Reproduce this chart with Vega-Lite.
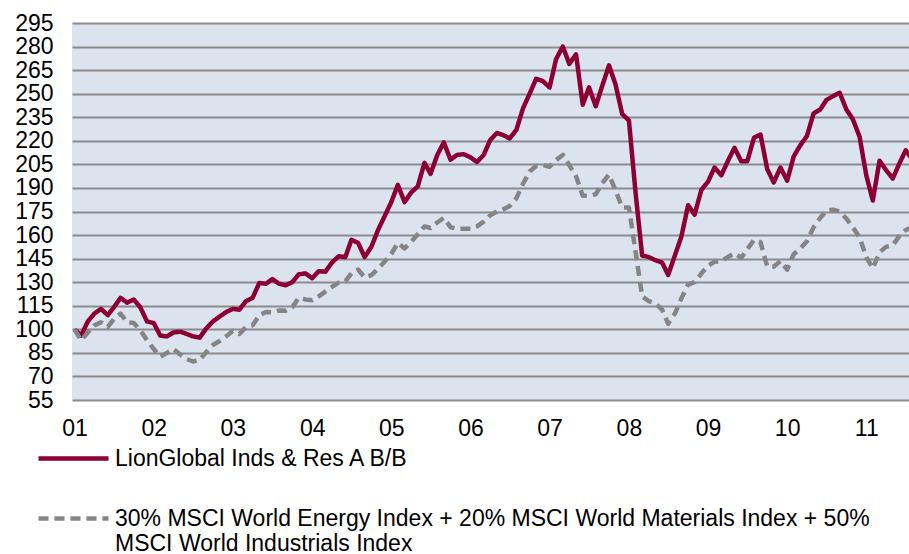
{
  "$schema": "https://vega.github.io/schema/vega-lite/v6.json",
  "width": 837,
  "height": 377,
  "autosize": {"type": "none"},
  "padding": {"left": 72, "top": 23, "right": 0, "bottom": 154},
  "background": "white",
  "config": {
    "font": "Liberation Sans",
    "view": {"fill": "#dbe3ef", "stroke": null}
  },
  "data": {"values": [
    {"d":"2001-09-01","a":100,"b":100},
    {"d":"2001-10-01","a":96,"b":93},
    {"d":"2001-11-01","a":105,"b":98},
    {"d":"2001-12-01","a":110,"b":102.5},
    {"d":"2002-01-01","a":113,"b":104.5},
    {"d":"2002-02-01","a":109,"b":101.5},
    {"d":"2002-03-01","a":114,"b":106.5},
    {"d":"2002-04-01","a":120,"b":110},
    {"d":"2002-05-01","a":117,"b":104.5},
    {"d":"2002-06-01","a":119,"b":104},
    {"d":"2002-07-01","a":114,"b":99.5},
    {"d":"2002-08-01","a":105,"b":93},
    {"d":"2002-09-01","a":104,"b":87.5},
    {"d":"2002-10-01","a":96,"b":82.5},
    {"d":"2002-11-01","a":95.5,"b":85},
    {"d":"2002-12-01","a":98,"b":87.5},
    {"d":"2003-01-01","a":98.5,"b":84},
    {"d":"2003-02-01","a":97,"b":81},
    {"d":"2003-03-01","a":95.5,"b":79.5},
    {"d":"2003-04-01","a":94.7,"b":80.5},
    {"d":"2003-05-01","a":100.5,"b":85.5},
    {"d":"2003-06-01","a":105,"b":90},
    {"d":"2003-07-01","a":108,"b":92.5},
    {"d":"2003-08-01","a":111,"b":95.5},
    {"d":"2003-09-01","a":113,"b":99},
    {"d":"2003-10-01","a":112.5,"b":97},
    {"d":"2003-11-01","a":118,"b":101.5},
    {"d":"2003-12-01","a":120,"b":102.5},
    {"d":"2004-01-01","a":129.5,"b":109},
    {"d":"2004-02-01","a":129,"b":111},
    {"d":"2004-03-01","a":132,"b":110.8},
    {"d":"2004-04-01","a":129,"b":112},
    {"d":"2004-05-01","a":128,"b":111.8},
    {"d":"2004-06-01","a":130,"b":114},
    {"d":"2004-07-01","a":135,"b":120},
    {"d":"2004-08-01","a":135.6,"b":119},
    {"d":"2004-09-01","a":132.5,"b":118.5},
    {"d":"2004-10-01","a":137,"b":121},
    {"d":"2004-11-01","a":136.7,"b":124},
    {"d":"2004-12-01","a":142.5,"b":127},
    {"d":"2005-01-01","a":146.5,"b":129.7},
    {"d":"2005-02-01","a":146,"b":130.5},
    {"d":"2005-03-01","a":157,"b":135.6},
    {"d":"2005-04-01","a":155,"b":138},
    {"d":"2005-05-01","a":146,"b":133},
    {"d":"2005-06-01","a":152.5,"b":134.5},
    {"d":"2005-07-01","a":163,"b":138.5},
    {"d":"2005-08-01","a":172,"b":143},
    {"d":"2005-09-01","a":181,"b":148},
    {"d":"2005-10-01","a":192,"b":155},
    {"d":"2005-11-01","a":181,"b":151.5},
    {"d":"2005-12-01","a":187,"b":155.5},
    {"d":"2006-01-01","a":191,"b":160.5},
    {"d":"2006-02-01","a":206,"b":165.5},
    {"d":"2006-03-01","a":199,"b":164.5},
    {"d":"2006-04-01","a":211,"b":168},
    {"d":"2006-05-01","a":219,"b":171},
    {"d":"2006-06-01","a":208,"b":165},
    {"d":"2006-07-01","a":211,"b":164},
    {"d":"2006-08-01","a":211.5,"b":164},
    {"d":"2006-09-01","a":209.5,"b":164},
    {"d":"2006-10-01","a":206.5,"b":165.5},
    {"d":"2006-11-01","a":211,"b":168.5},
    {"d":"2006-12-01","a":220.5,"b":172.5},
    {"d":"2007-01-01","a":225,"b":175},
    {"d":"2007-02-01","a":223.5,"b":176.5},
    {"d":"2007-03-01","a":221.5,"b":178.5},
    {"d":"2007-04-01","a":227,"b":183.5},
    {"d":"2007-05-01","a":240.5,"b":192.5},
    {"d":"2007-06-01","a":250,"b":200.5},
    {"d":"2007-07-01","a":259.5,"b":204},
    {"d":"2007-08-01","a":258,"b":204.6},
    {"d":"2007-09-01","a":254,"b":203.5},
    {"d":"2007-10-01","a":272,"b":207.8},
    {"d":"2007-11-01","a":280,"b":211},
    {"d":"2007-12-01","a":269,"b":204.5},
    {"d":"2008-01-01","a":275,"b":197.5},
    {"d":"2008-02-01","a":243,"b":185},
    {"d":"2008-03-01","a":254,"b":185},
    {"d":"2008-04-01","a":242,"b":186},
    {"d":"2008-05-01","a":255,"b":193},
    {"d":"2008-06-01","a":268,"b":198.5},
    {"d":"2008-07-01","a":256,"b":188.5},
    {"d":"2008-08-01","a":237,"b":177.6},
    {"d":"2008-09-01","a":233,"b":177.5},
    {"d":"2008-10-01","a":188,"b":150},
    {"d":"2008-11-01","a":147,"b":121},
    {"d":"2008-12-01","a":146,"b":118},
    {"d":"2009-01-01","a":144,"b":116.5},
    {"d":"2009-02-01","a":142.5,"b":112.5},
    {"d":"2009-03-01","a":134.6,"b":103.5},
    {"d":"2009-04-01","a":147,"b":110},
    {"d":"2009-05-01","a":159,"b":119.7},
    {"d":"2009-06-01","a":179,"b":128.5},
    {"d":"2009-07-01","a":173,"b":130},
    {"d":"2009-08-01","a":188.7,"b":135.5},
    {"d":"2009-09-01","a":194,"b":140.5},
    {"d":"2009-10-01","a":203,"b":143},
    {"d":"2009-11-01","a":198,"b":143.3},
    {"d":"2009-12-01","a":207,"b":146},
    {"d":"2010-01-01","a":215.6,"b":148.4},
    {"d":"2010-02-01","a":207,"b":145.5},
    {"d":"2010-03-01","a":207,"b":151},
    {"d":"2010-04-01","a":222,"b":157},
    {"d":"2010-05-01","a":224,"b":155.5},
    {"d":"2010-06-01","a":202,"b":140},
    {"d":"2010-07-01","a":193.5,"b":139.9},
    {"d":"2010-08-01","a":203,"b":143.5},
    {"d":"2010-09-01","a":194.6,"b":138},
    {"d":"2010-10-01","a":210,"b":147.8},
    {"d":"2010-11-01","a":217.3,"b":151.5},
    {"d":"2010-12-01","a":223,"b":156},
    {"d":"2011-01-01","a":237.5,"b":165},
    {"d":"2011-02-01","a":240,"b":171},
    {"d":"2011-03-01","a":246,"b":175.5},
    {"d":"2011-04-01","a":248.5,"b":176.2},
    {"d":"2011-05-01","a":250.6,"b":175},
    {"d":"2011-06-01","a":240,"b":170.5},
    {"d":"2011-07-01","a":233.7,"b":165},
    {"d":"2011-08-01","a":222.6,"b":158.5},
    {"d":"2011-09-01","a":198,"b":146},
    {"d":"2011-10-01","a":182,"b":138.8},
    {"d":"2011-11-01","a":207.3,"b":149},
    {"d":"2011-12-01","a":201.4,"b":152.5},
    {"d":"2012-01-01","a":196,"b":153.5},
    {"d":"2012-02-01","a":205.7,"b":159.5},
    {"d":"2012-03-01","a":214,"b":163.2},
    {"d":"2012-04-01","a":208,"b":165}
  ]},
  "transform": [
    {"fold": ["a", "b"], "as": ["series", "value"]}
  ],
  "mark": {"type": "line", "strokeWidth": 4.5, "clip": true, "strokeJoin": "round"},
  "encoding": {
    "x": {
      "field": "d", "type": "temporal",
      "scale": {"type": "utc", "domain": [
        {"year": 2001, "month": 8, "date": 20, "utc": true},
        {"year": 2012, "month": 3, "date": 16, "utc": true}
      ]},
      "axis": {
        "title": null, "grid": false, "ticks": false, "domain": false,
        "values": [
          {"year": 2001, "month": 9, "date": 1, "utc": true},
          {"year": 2002, "month": 9, "date": 1, "utc": true},
          {"year": 2003, "month": 9, "date": 1, "utc": true},
          {"year": 2004, "month": 9, "date": 1, "utc": true},
          {"year": 2005, "month": 9, "date": 1, "utc": true},
          {"year": 2006, "month": 9, "date": 1, "utc": true},
          {"year": 2007, "month": 9, "date": 1, "utc": true},
          {"year": 2008, "month": 9, "date": 1, "utc": true},
          {"year": 2009, "month": 9, "date": 1, "utc": true},
          {"year": 2010, "month": 9, "date": 1, "utc": true},
          {"year": 2011, "month": 9, "date": 1, "utc": true}
        ],
        "format": "%y", "labelFontSize": 23, "labelColor": "#000000",
        "labelPadding": 17, "labelFlush": false, "labelOverlap": false
      }
    },
    "y": {
      "field": "value", "type": "quantitative",
      "scale": {"domain": [55, 295], "nice": false, "zero": false},
      "axis": {
        "title": null, "values": [55,70,85,100,115,130,145,160,175,190,205,220,235,250,265,280,295],
        "grid": true, "gridColor": "#8c8c8c", "gridWidth": 2,
        "ticks": false, "domain": false,
        "labelFontSize": 23, "labelColor": "#000000", "labelPadding": 19
      }
    },
    "color": {
      "field": "series", "type": "nominal",
      "scale": {"domain": ["a", "b"], "range": ["#8c0034", "#858585"]},
      "legend": {
        "title": null, "orient": "none", "direction": "vertical",
        "legendX": -36, "legendY": 398, "padding": 0,
        "symbolType": "stroke", "symbolSize": 4900, "symbolStrokeWidth": 4.5,
        "labelFontSize": 23, "labelColor": "#000000", "labelLimit": 900,
        "labelBaseline": "middle",
        "rowPadding": 10, "labelOffset": 4,
        "labelExpr": "datum.label == 'a' ? 'LionGlobal Inds & Res A B/B' : ['30% MSCI World Energy Index + 20% MSCI World Materials Index + 50%', 'MSCI World Industrials Index']"
      }
    },
    "strokeDash": {
      "field": "series", "type": "nominal",
      "scale": {"domain": ["a", "b"], "range": [[1, 0], [10, 6]]},
      "legend": null
    }
  }
}
